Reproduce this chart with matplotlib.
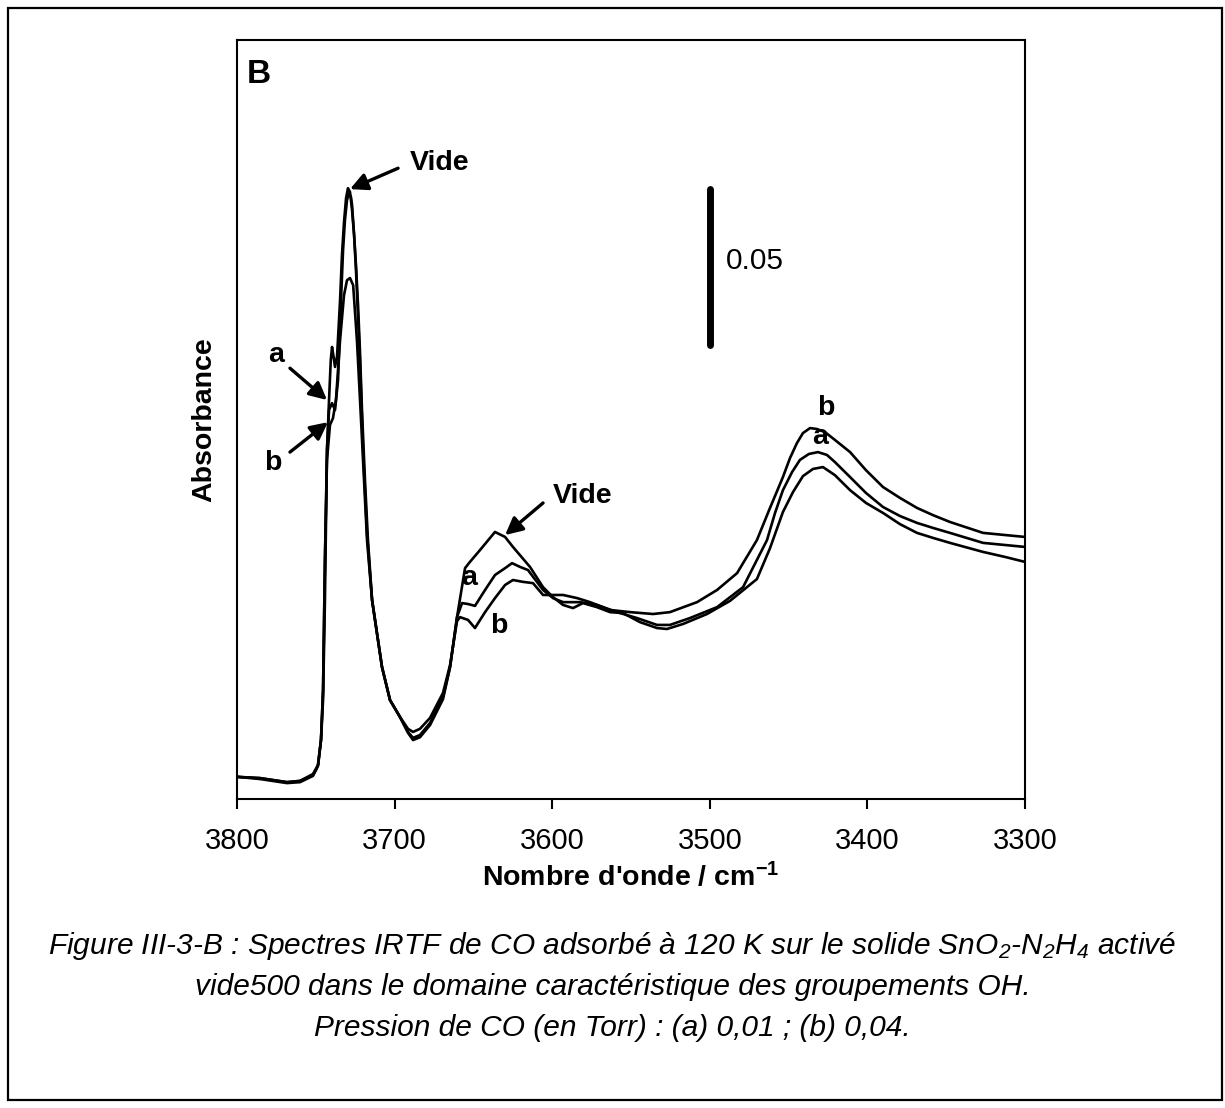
import matplotlib
matplotlib.use("Agg")
import matplotlib.pyplot as plt
from matplotlib.patches import Rectangle

plt.rcParams["font.family"] = ["Liberation Sans", "DejaVu Sans"]
plt.rcParams["mathtext.default"] = "regular"

# spectra: wavenumber (cm-1) and absorbance
wn_vide = [3800, 3785.4, 3768.3, 3760, 3751.8, 3749.9, 3748.6, 3746.7, 3745.4, 3744.2, 3742.9,
           3741.6, 3740.5, 3739.7, 3738.8, 3737.8, 3736.5, 3734.6, 3733.4, 3732.1, 3730.8,
           3729.6, 3728.3, 3727.0, 3725.7, 3724.5, 3723.2, 3722.0, 3720.7, 3718.8, 3716.9,
           3714.3, 3711.2, 3708.0, 3702.9, 3696.6, 3691.5, 3688.3, 3683.9, 3677.5, 3669.3,
           3664.8, 3660.4, 3655.3, 3652.2, 3645.8, 3636.3, 3629.9, 3624.9, 3614.1, 3605.8,
           3599.5, 3593.1, 3586.8, 3580.5, 3571.6, 3563.3, 3555.1, 3544.3, 3533.5, 3527.2,
           3517.0, 3501.8, 3487.2, 3470.1, 3461.8, 3453.6, 3447.2, 3440.9, 3434.5, 3428.2,
           3420.6, 3411.0, 3400.9, 3390.1, 3379.3, 3368.5, 3358.4, 3347.6, 3326.6, 3312.7, 3300]
abs_vide = [0.0071, 0.0067, 0.0054, 0.0058, 0.0077, 0.0093, 0.0109, 0.0189, 0.0317, 0.0638, 0.1119,
            0.1279, 0.1407, 0.1449, 0.1420, 0.1385, 0.1420, 0.1599, 0.1743, 0.1849, 0.1926,
            0.1958, 0.1946, 0.1888, 0.1808, 0.1711, 0.1583, 0.1439, 0.1247, 0.1022, 0.0830,
            0.0638, 0.0532, 0.0423, 0.0317, 0.0263, 0.0212, 0.0189, 0.0198, 0.0237, 0.0320,
            0.0423, 0.0583, 0.0740, 0.0760, 0.0798, 0.0856, 0.0840, 0.0808, 0.0744, 0.0679,
            0.0647, 0.0622, 0.0612, 0.0628, 0.0615, 0.0599, 0.0596, 0.0567, 0.0548, 0.0545,
            0.0561, 0.0593, 0.0635, 0.0705, 0.0804, 0.0920, 0.0984, 0.1035, 0.1058, 0.1064,
            0.1038, 0.0990, 0.0949, 0.0917, 0.0881, 0.0853, 0.0837, 0.0821, 0.0792, 0.0776, 0.0760]

wn_a = [3800, 3785.4, 3768.3, 3760, 3751.8, 3748.6, 3746.7, 3745.4, 3744.2, 3742.9, 3741.6,
        3739.7, 3737.8, 3735.9, 3734.0, 3732.7, 3731.5, 3730.2, 3728.9, 3727.7, 3727.0,
        3725.7, 3724.5, 3722.0, 3720.0, 3717.5, 3714.3, 3711.2, 3708.0, 3702.9, 3696.6,
        3691.5, 3688.3, 3683.9, 3677.5, 3669.3, 3664.8, 3660.4, 3657.2, 3653.4, 3649.0,
        3642.6, 3636.3, 3629.9, 3625.5, 3620.4, 3615.4, 3605.8, 3599.5, 3593.1, 3582.4,
        3571.6, 3558.9, 3546.2, 3533.5, 3525.3, 3512.6, 3495.4, 3478.9, 3463.7, 3458.6,
        3453.6, 3447.8, 3442.8, 3437.1, 3431.4, 3425.7, 3420.6, 3411.0, 3400.9, 3390.1,
        3379.3, 3368.5, 3358.4, 3347.6, 3326.6, 3300]
abs_a = [0.0071, 0.0064, 0.0051, 0.0054, 0.0074, 0.0106, 0.0189, 0.0349, 0.0767, 0.1119, 0.1247,
         0.1269, 0.1247, 0.1343, 0.1599, 0.1760, 0.1856, 0.1920, 0.1942, 0.1930, 0.1904,
         0.1808, 0.1695, 0.1407, 0.1119, 0.0850, 0.0638, 0.0532, 0.0423, 0.0317, 0.0263,
         0.0215, 0.0196, 0.0205, 0.0244, 0.0327, 0.0423, 0.0583, 0.0628, 0.0625, 0.0619,
         0.0670, 0.0718, 0.0740, 0.0756, 0.0744, 0.0734, 0.0670, 0.0644, 0.0631, 0.0631,
         0.0622, 0.0599, 0.0580, 0.0558, 0.0558, 0.0580, 0.0615, 0.0679, 0.0830, 0.0917,
         0.0990, 0.1048, 0.1087, 0.1106, 0.1112, 0.1103, 0.1080, 0.1032, 0.0981, 0.0936,
         0.0907, 0.0885, 0.0869, 0.0853, 0.0821, 0.0808]

wn_b = [3800, 3785.4, 3768.3, 3760, 3751.8, 3748.6, 3746.7, 3745.4, 3744.2, 3742.9, 3741.0,
        3739.1, 3737.2, 3734.6, 3732.1, 3730.2, 3728.3, 3726.3, 3723.9, 3721.3, 3719.4,
        3717.5, 3714.3, 3711.2, 3708.0, 3702.9, 3696.6, 3691.5, 3688.3, 3683.9, 3677.5,
        3669.3, 3664.8, 3660.4, 3658.5, 3653.4, 3649.0, 3642.6, 3636.3, 3629.9, 3624.9,
        3618.5, 3612.2, 3605.8, 3599.5, 3593.1, 3584.2, 3576.0, 3563.3, 3550.6, 3536.0,
        3525.3, 3508.1, 3495.4, 3482.7, 3470.1, 3461.8, 3453.6, 3449.1, 3444.7, 3440.9,
        3436.4, 3432.0, 3426.9, 3420.6, 3411.0, 3400.9, 3390.1, 3379.3, 3368.5, 3358.4,
        3347.6, 3326.6, 3300]
abs_b = [0.0071, 0.0067, 0.0054, 0.0058, 0.0080, 0.0109, 0.0189, 0.0349, 0.0767, 0.1087, 0.1199,
         0.1221, 0.1279, 0.1471, 0.1615, 0.1663, 0.1670, 0.1647, 0.1471, 0.1215, 0.1022,
         0.0830, 0.0638, 0.0532, 0.0423, 0.0317, 0.0263, 0.0225, 0.0215, 0.0225, 0.0260,
         0.0340, 0.0430, 0.0570, 0.0583, 0.0574, 0.0548, 0.0599, 0.0644, 0.0686, 0.0702,
         0.0696, 0.0692, 0.0654, 0.0654, 0.0654, 0.0644, 0.0631, 0.0606, 0.0599, 0.0593,
         0.0599, 0.0631, 0.0670, 0.0724, 0.0830, 0.0933, 0.1032, 0.1093, 0.1141, 0.1173,
         0.1189, 0.1186, 0.1176, 0.1151, 0.1112, 0.1054, 0.1000, 0.0965, 0.0933, 0.0910,
         0.0888, 0.0853, 0.0840]

x_ticks = [3800, 3700, 3600, 3500, 3400, 3300]
scale_bar = 0.05

fig = plt.figure(figsize=(12.25, 11.08), dpi=100)
ax = fig.add_axes([237 / 1225, 1 - 799 / 1108, 788 / 1225, 759 / 1108])

for wn, ab in [(wn_vide, abs_vide), (wn_a, abs_a), (wn_b, abs_b)]:
    ax.plot(wn, ab, color="black", lw=1.9, solid_joinstyle="round")

ax.set_xlim(3800, 3300)
ax.set_ylim(0, 0.2433)
ax.set_xticks(x_ticks)
ax.set_xticklabels([str(t) for t in x_ticks], fontsize=21)
ax.set_yticks([])
ax.tick_params(axis="x", direction="out", length=7, width=1.5, pad=13)
for sp in ax.spines.values():
    sp.set_linewidth(1.5)

ax.set_xlabel("Nombre d'onde / cm$^{-1}$", fontsize=20.5, fontweight="bold", labelpad=5)
ax.set_ylabel("Absorbance", fontsize=20.5, fontweight="bold", labelpad=14)

# scale bar
ax.plot([3500, 3500], [0.1455, 0.1455 + scale_bar], color="black", lw=5, solid_capstyle="round")
ax.text(3490, 0.1455 + scale_bar / 2 + 0.002, "0.05", fontsize=21.5, va="center", ha="left")

ax.text(0.013, 0.955, "B", transform=ax.transAxes, fontsize=24, fontweight="bold", va="center")

arrow = dict(arrowstyle="-|>", color="black", lw=2.4, mutation_scale=26, shrinkA=0, shrinkB=0)
ax.annotate("", xy=(3728.3, 0.1955), xytext=(3697.8, 0.2022), arrowprops=arrow)
ax.text(3690.2, 0.2038, "Vide", fontsize=20.5, fontweight="bold", va="center", ha="left")
ax.annotate("", xy=(3742.9, 0.1279), xytext=(3766.4, 0.1381), arrowprops=arrow)
ax.text(3775.3, 0.1423, "a", fontsize=20.5, fontweight="bold", va="center", ha="center")
ax.annotate("", xy=(3742.3, 0.1208), xytext=(3766.4, 0.1112), arrowprops=arrow)
ax.text(3777.2, 0.1077, "b", fontsize=20.5, fontweight="bold", va="center", ha="center")

ax.annotate("", xy=(3629.9, 0.0846), xytext=(3605.8, 0.0949), arrowprops=arrow)
ax.text(3599.5, 0.0971, "Vide", fontsize=20.5, fontweight="bold", va="center", ha="left")
ax.text(3652.8, 0.0708, "a", fontsize=20.5, fontweight="bold", va="center", ha="center")
ax.text(3633.8, 0.0554, "b", fontsize=20.5, fontweight="bold", va="center", ha="center")
ax.text(3426.3, 0.1253, "b", fontsize=20.5, fontweight="bold", va="center", ha="center")
ax.text(3430.2, 0.1161, "a", fontsize=20.5, fontweight="bold", va="center", ha="center")

caption = [
    "Figure III-3-B : Spectres IRTF de CO adsorbé à 120 K sur le solide SnO$_2$-N$_2$H$_4$ activé",
    "vide500 dans le domaine caractéristique des groupements OH.",
    "Pression de CO (en Torr) : (a) 0,01 ; (b) 0,04.",
]
for i, line in enumerate(caption):
    fig.text(0.5, 1 - (946 + 41 * i) / 1108, line, fontsize=21.5, style="italic",
             ha="center", va="center")

fig.patches.append(Rectangle((8 / 1225, 1 - 1100 / 1108), 1214 / 1225, 1092 / 1108,
                             transform=fig.transFigure, fill=False, lw=1.6, color="black"))

fig.savefig("out.png", dpi=100)
